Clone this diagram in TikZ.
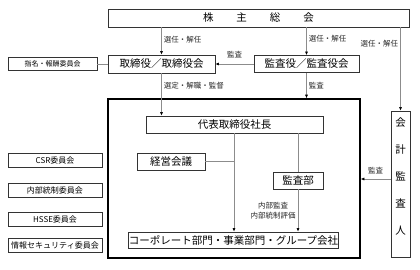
\documentclass[tikz,border=0pt]{standalone}
\usepackage{fontspec}
\setmainfont{Noto Sans CJK JP}
\usetikzlibrary{arrows.meta,positioning,calc}

\begin{document}
\begin{tikzpicture}[x=1pt,y=-1pt,
  box/.style={draw=black!80,line width=0.8pt,fill=white,inner sep=0pt,font=\fontsize{10.5}{12}\selectfont},
  cbox/.style={box,minimum width=94,minimum height=14,font=\fontsize{8}{10}\selectfont},
  lbl/.style={font=\fontsize{7.5}{10}\selectfont,inner sep=2pt,text=black!85},
  arr/.style={draw=black!45,line width=0.6pt,-{Latex[length=3.5pt,width=3pt,color=black]}},
  ln/.style={draw=black!45,line width=0.6pt}]
\useasboundingbox (0,0) rectangle (420,269);
% outer frame of the executive side
\node[draw=black,line width=1.6pt,minimum width=252,minimum height=159,inner sep=0pt] (group) at (234,178.5) {};
% top row
\node[box,minimum width=301,minimum height=18] (meeting) at (258.5,18)
  {株\hspace{23pt}主\hspace{23pt}総\hspace{23pt}会};
\node[box,minimum width=107,minimum height=18] (board) at (161.5,64) {取締役／取締役会};
\node[box,minimum width=105,minimum height=17] (auditors) at (306.5,64) {監査役／監査役会};
\node[box,minimum width=89,minimum height=13,font=\fontsize{7}{9}\selectfont] (nomcom) at (52.5,64) {指名・報酬委員会};
% inside the frame
\node[box,minimum width=177,minimum height=17] (president) at (234.5,124.5) {代表取締役社長};
\node[box,minimum width=68,minimum height=17] (council) at (171,161.5) {経営会議};
\node[box,minimum width=50,minimum height=17] (auditdept) at (298,180.5) {監査部};
\node[box,minimum width=209,minimum height=16] (ops) at (233.5,240) {コーポレート部門・事業部門・グループ会社};
\coordinate (hub) at (234,161.5);
% external auditor
\node[box,minimum width=19,minimum height=146] (ext) at (400.5,184) {};
\node[font=\fontsize{10.5}{27}\selectfont,align=center,inner sep=0pt] (exttext) at (400.5,176.5) {会\\計\\監\\査\\人};
% committees
\foreach \y/\t [count=\i] in {160/CSR委員会,190/内部統制委員会,219/HSSE委員会,245/情報セキュリティ委員会}
  \node[cbox] (com\i) at (55,\y) {\t};
% connectors
\draw[arr] (board |- meeting.south) -- node[lbl,right,pos=0.45]{選任・解任} (board.north);
\draw[arr] (auditors |- meeting.south) -- node[lbl,right,pos=0.4]{選任・解任} (auditors.north);
\draw[arr] (ext |- meeting.south) -- node[lbl,left,pos=0.19]{選任・解任} (ext.north);
\draw[arr] (auditors.west) -- node[lbl,above=4pt]{監査} (board.east);
\draw[ln] (nomcom.east) -- (board.west);
\draw[arr] (board.south) -- node[lbl,right,pos=0.28]{選定・解職・監督} (president.north -| board);
\draw[arr] (auditors.south) -- node[lbl,right]{監査} (auditors.south |- group.north);
\draw[arr] ([yshift=5pt]ext.west) -- node[lbl,above=3pt]{監査} ([yshift=5pt]ext.west -| group.east);
\draw[ln] (council.east) -- (hub);
\draw[arr] (president.south -| hub) -- (ops.north -| hub);
\draw[ln] (president.south -| auditdept) -- (auditdept.north);
\draw[arr] (auditdept.south) -- node[lbl,left,align=center]{内部監査\\内部統制評価} (auditdept.south |- ops.north);
\end{tikzpicture}
\end{document}
